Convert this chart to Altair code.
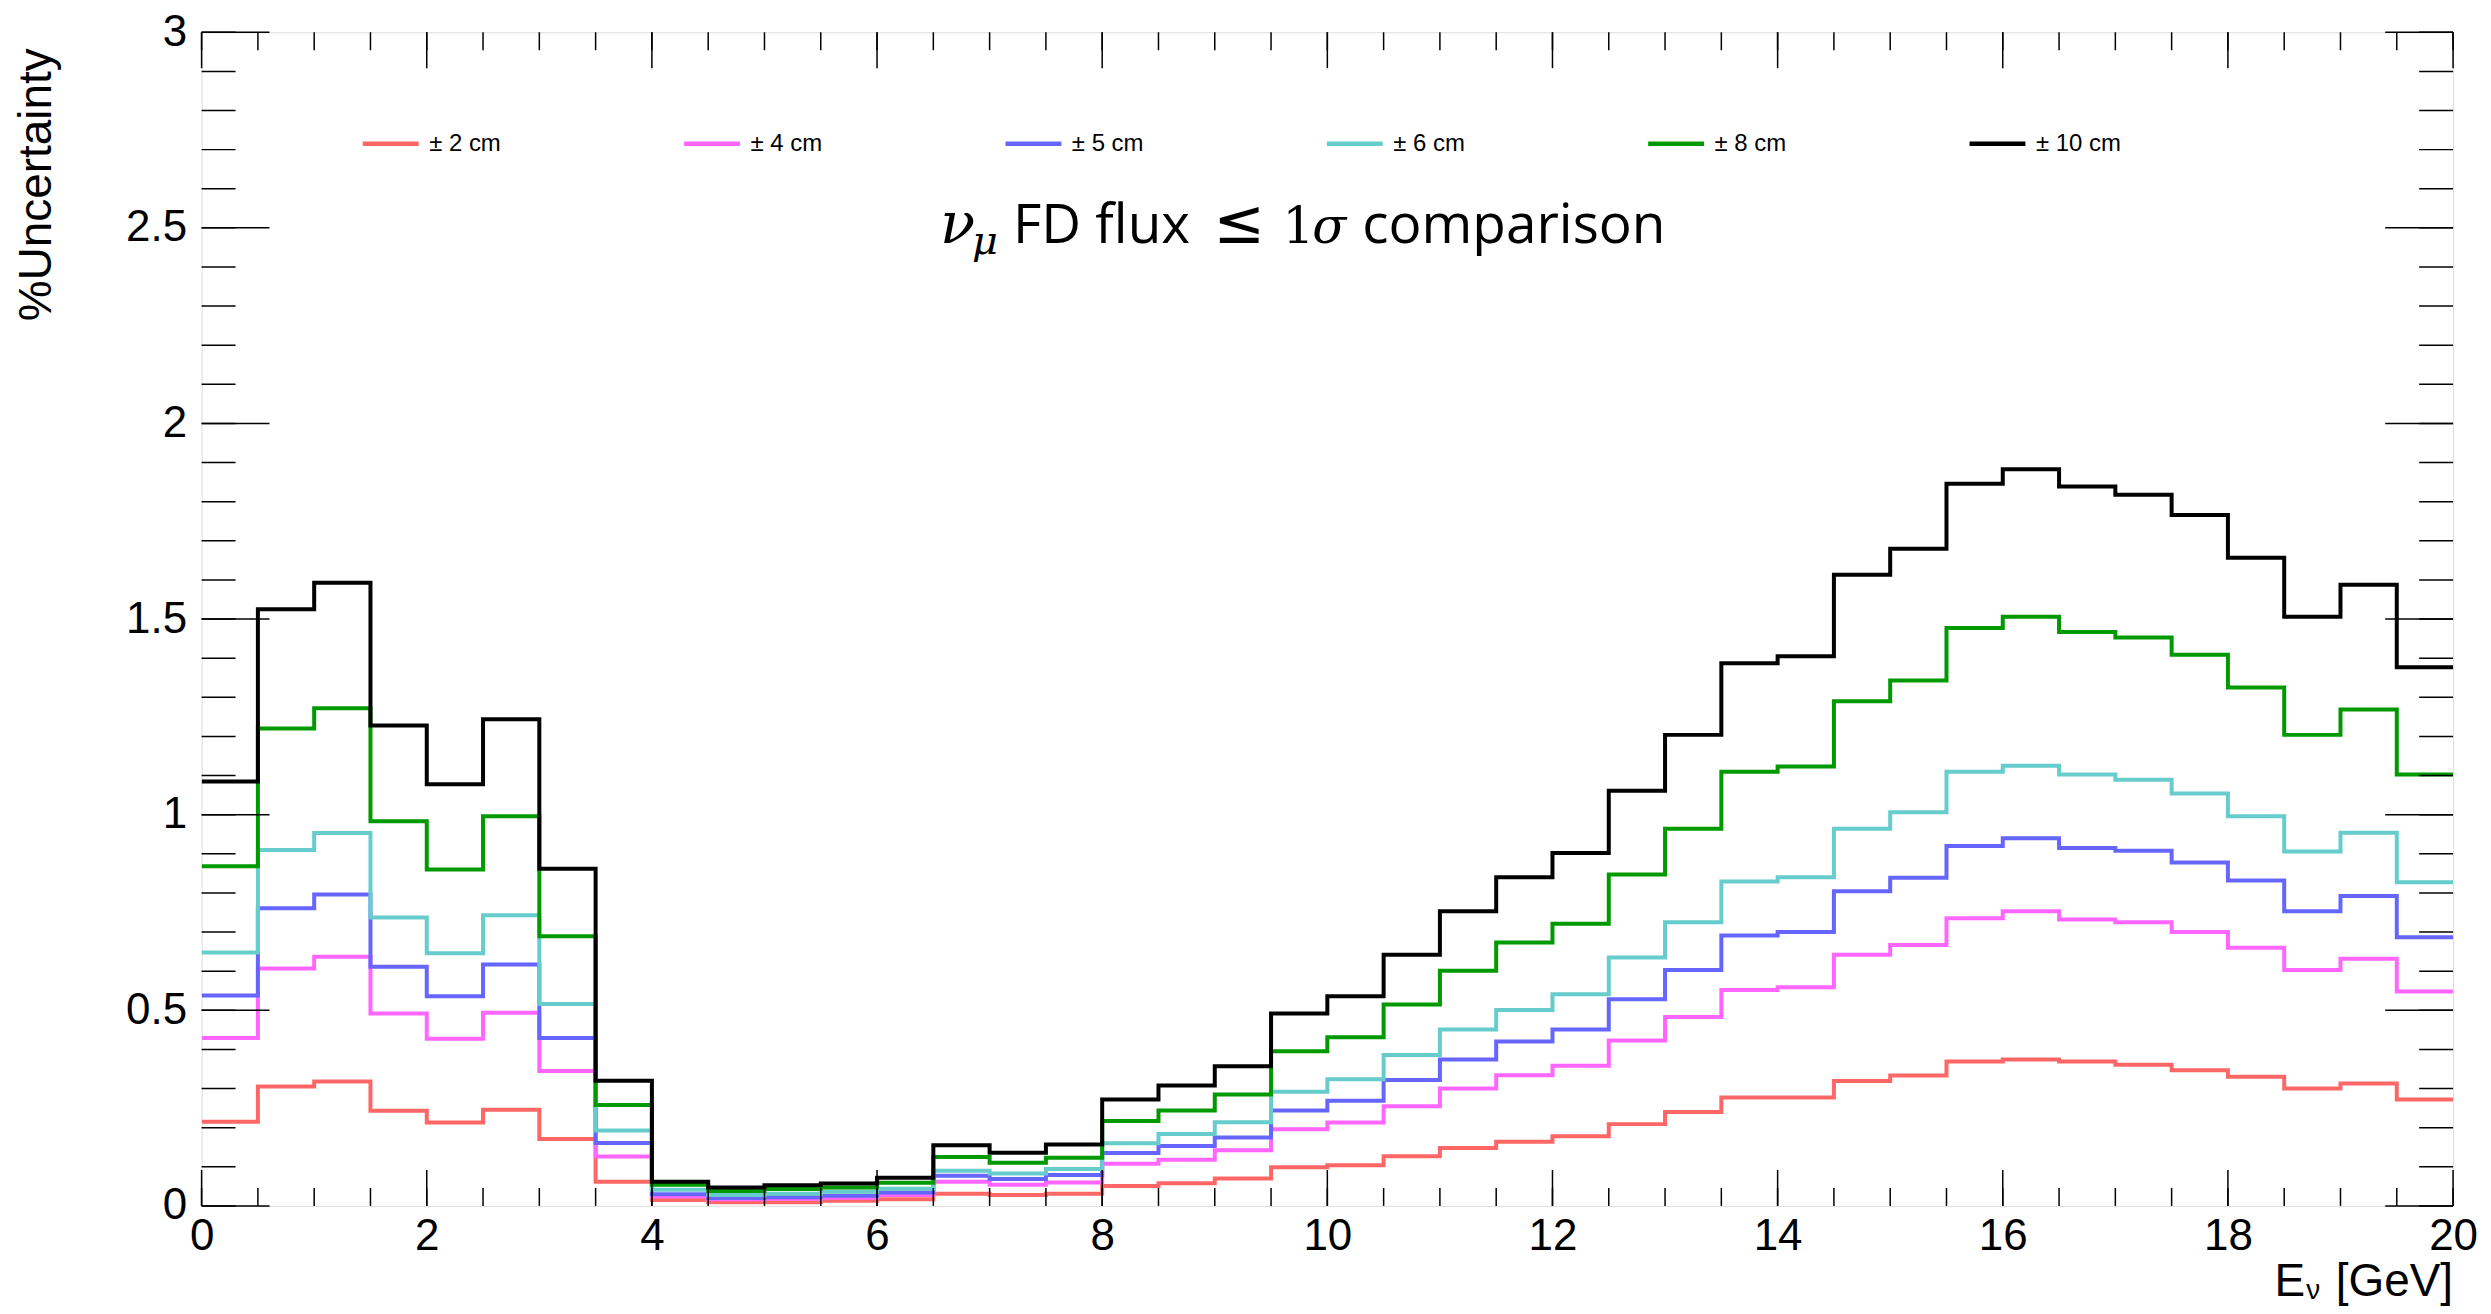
import altair as alt
import pandas as pd

# ---------------- data ----------------
bin_edges = [i / 2 for i in range(41)]  # 0 .. 20 GeV in 0.5 GeV bins

labels = ["± 2 cm", "± 4 cm", "± 5 cm", "± 6 cm", "± 8 cm", "± 10 cm"]
colors = ["#ff6666", "#ff66ff", "#6666ff", "#66cccc", "#009900", "#000000"]

unc_2cm = [0.215, 0.305, 0.318, 0.243, 0.213, 0.246, 0.171, 0.062,
           0.015, 0.009, 0.009, 0.013, 0.017, 0.031, 0.028, 0.031,
           0.051, 0.058, 0.070, 0.099, 0.104, 0.127, 0.148, 0.164,
           0.178, 0.209, 0.240, 0.277, 0.277, 0.319, 0.333, 0.369,
           0.374, 0.369, 0.361, 0.347, 0.330, 0.300, 0.313, 0.272]
unc_4cm = [0.429, 0.607, 0.637, 0.492, 0.427, 0.494, 0.345, 0.126,
           0.024, 0.017, 0.018, 0.021, 0.028, 0.062, 0.054, 0.060,
           0.108, 0.118, 0.142, 0.196, 0.213, 0.255, 0.300, 0.334,
           0.358, 0.423, 0.483, 0.552, 0.559, 0.642, 0.667, 0.735,
           0.753, 0.732, 0.725, 0.700, 0.660, 0.603, 0.632, 0.548]
unc_5cm = [0.538, 0.761, 0.796, 0.611, 0.536, 0.617, 0.429, 0.161,
           0.030, 0.020, 0.022, 0.026, 0.034, 0.077, 0.069, 0.079,
           0.135, 0.153, 0.175, 0.244, 0.269, 0.322, 0.374, 0.420,
           0.451, 0.528, 0.603, 0.691, 0.700, 0.804, 0.839, 0.920,
           0.940, 0.915, 0.908, 0.878, 0.832, 0.753, 0.792, 0.687]
unc_6cm = [0.648, 0.910, 0.953, 0.737, 0.646, 0.743, 0.516, 0.193,
           0.041, 0.028, 0.031, 0.036, 0.044, 0.090, 0.083, 0.094,
           0.160, 0.184, 0.214, 0.292, 0.324, 0.386, 0.451, 0.501,
           0.541, 0.635, 0.725, 0.829, 0.840, 0.964, 1.006, 1.110,
           1.125, 1.103, 1.089, 1.054, 0.996, 0.906, 0.954, 0.827]
unc_8cm = [0.868, 1.220, 1.272, 0.983, 0.860, 0.996, 0.689, 0.258,
           0.054, 0.038, 0.043, 0.047, 0.059, 0.125, 0.110, 0.123,
           0.217, 0.244, 0.285, 0.395, 0.431, 0.515, 0.601, 0.673,
           0.721, 0.847, 0.964, 1.110, 1.123, 1.290, 1.343, 1.477,
           1.506, 1.467, 1.453, 1.409, 1.325, 1.204, 1.269, 1.103]
unc_10cm = [1.085, 1.525, 1.593, 1.228, 1.078, 1.244, 0.862, 0.320,
            0.062, 0.047, 0.053, 0.057, 0.072, 0.155, 0.136, 0.157,
            0.272, 0.308, 0.357, 0.492, 0.536, 0.642, 0.753, 0.840,
            0.902, 1.061, 1.204, 1.387, 1.405, 1.613, 1.680, 1.846,
            1.883, 1.839, 1.818, 1.766, 1.657, 1.506, 1.588, 1.377]

series_values = [unc_2cm, unc_4cm, unc_5cm, unc_6cm, unc_8cm, unc_10cm]

y_major = [0, 0.5, 1, 1.5, 2, 2.5, 3]
y_minor = [round(i * 0.1, 1) for i in range(31)]
x_major = [0, 2, 4, 6, 8, 10, 12, 14, 16, 18, 20]
x_minor = bin_edges

# ---------------- table ----------------
rows = []
for lab, vals in zip(labels, series_values):
    for i, v in enumerate(vals):
        rows.append({"series": lab, "E": bin_edges[i], "U": v})
    rows.append({"series": lab, "E": bin_edges[-1], "U": vals[-1]})
df = pd.DataFrame(rows)

W, H = 2256, 1176
FONT = "Liberation Sans"

xscale = alt.Scale(domain=[0, 20], nice=False, zero=False)
yscale = alt.Scale(domain=[0, 3], nice=False, zero=False)

xaxis = alt.Axis(values=x_major, ticks=False, tickSize=0, domain=False, grid=False,
                 labelFont=FONT, labelFontSize=44, labelPadding=9, labelFlush=False,
                 labelColor="black", labelOverlap=False, title=None)
yaxis = alt.Axis(values=y_major, format="~g", ticks=False, tickSize=0, domain=False,
                 grid=False, labelFont=FONT, labelFontSize=44, labelPadding=15,
                 labelColor="black", labelOverlap=False, title=None)

lines = alt.Chart(df).mark_line(interpolate="step-after", strokeWidth=4, clip=True).encode(
    x=alt.X("E:Q", scale=xscale, axis=xaxis),
    y=alt.Y("U:Q", scale=yscale, axis=yaxis),
    color=alt.Color("series:N", sort=labels,
                    scale=alt.Scale(domain=labels, range=colors),
                    legend=alt.Legend(title=None, orient="none", legendX=159, legendY=81,
                                      direction="horizontal", columns=6, gridAlign="all",
                                      columnPadding=160, symbolType="stroke", symbolSize=3136,
                                      symbolStrokeWidth=4.5, labelFont=FONT, labelFontSize=24,
                                      labelOffset=8, labelColor="black", padding=0)),
)

def yticks(vals, side, length):
    d = pd.DataFrame({"v": vals})
    if side == "left":
        x1, x2 = 0, length
    else:
        x1, x2 = W - length, W
    return alt.Chart(d).mark_rule(color="black", strokeWidth=1.5).encode(
        y=alt.Y("v:Q", scale=yscale, axis=yaxis), x=alt.value(x1), x2=alt.value(x2))

def xticks(vals, side, length):
    d = pd.DataFrame({"v": vals})
    if side == "bottom":
        y1, y2 = H - length, H
    else:
        y1, y2 = 0, length
    return alt.Chart(d).mark_rule(color="black", strokeWidth=1.5).encode(
        x=alt.X("v:Q", scale=xscale, axis=xaxis), y=alt.value(y1), y2=alt.value(y2))

ticks = [
    yticks(y_minor, "left", 34), yticks(y_major, "left", 68),
    yticks(y_minor, "right", 34), yticks(y_major, "right", 68),
    xticks(x_minor, "bottom", 18), xticks(x_major, "bottom", 36),
    xticks(x_minor, "top", 18), xticks(x_major, "top", 36),
]

one = pd.DataFrame({"d": [0]})

def label(text, x, y, size, font=FONT, style="normal", align="left", angle=0):
    return alt.Chart(one).mark_text(text=text, font=font, fontSize=size, fontStyle=style,
                                    align=align, baseline="alphabetic", angle=angle,
                                    color="black").encode(x=alt.value(x), y=alt.value(y))

texts = [
    label("ν", 740, 211, 58, font="DejaVu Serif", style="italic"),
    label("μ", 772, 222, 40, font="DejaVu Serif", style="italic"),
    label("FD flux", 813, 211, 55, font="Open Sans"),
    label("≤", 1014, 211, 62, font="DejaVu Sans"),
    label("1", 1083, 211, 50, font="DejaVu Serif"),
    label("σ", 1113, 211, 50, font="DejaVu Serif", style="italic"),
    label("comparison", 1163, 211, 55, font="Open Sans"),
    label("E", 2077, 1266, 46),
    label("ν", 2109, 1269, 28),
    label("[GeV]", W, 1266, 46, align="right"),
    label("%Uncertainty", -151, 16, 46, align="right", angle=270),
]

chart = alt.layer(lines, *ticks, *texts).properties(
    width=W, height=H,
    padding={"left": 194, "top": 23, "right": 30, "bottom": 99},
    autosize=alt.AutoSizeParams(type="none"),
).configure_view(stroke="black", strokeWidth=1.5).configure(background="white")

chart.save("out.html", embed_options={"renderer": "svg", "actions": False})
